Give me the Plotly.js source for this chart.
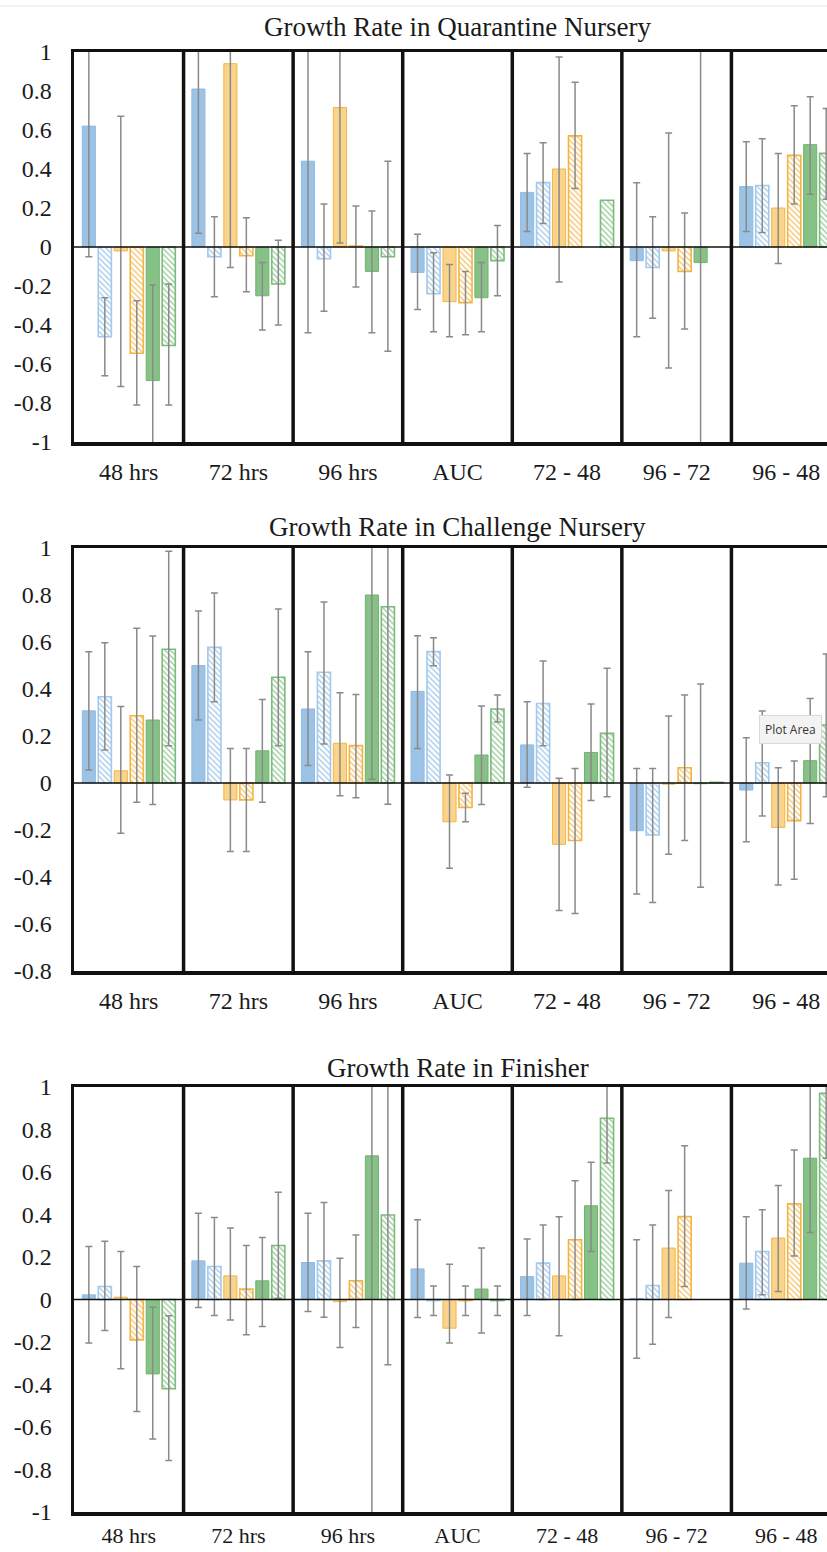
<!DOCTYPE html>
<html>
<head>
<meta charset="utf-8">
<script src="https://cdn.plot.ly/plotly-3.0.1.min.js"></script>
<style>
  html, body { margin: 0; padding: 0; background: #ffffff; overflow: hidden; width: 827px; height: 1552px; }
  #chart { width: 860px; height: 1552px; }
</style>
</head>
<body>
<div id="chart"></div>
<script>
// ---------------- DATA ----------------
const categories = ['48 hrs', '72 hrs', '96 hrs', 'AUC', '72 - 48', '96 - 72', '96 - 48'];
const seriesNames = ['Blue', 'Blue (hatched)', 'Orange', 'Orange (hatched)', 'Green', 'Green (hatched)'];
const panelTitles = ['Growth Rate in Quarantine Nursery', 'Growth Rate in Challenge Nursery', 'Growth Rate in Finisher'];
const yTicksFull = [-1, -0.8, -0.6, -0.4, -0.2, 0, 0.2, 0.4, 0.6, 0.8, 1];
const yTicksChallenge = [-0.8, -0.6, -0.4, -0.2, 0, 0.2, 0.4, 0.6, 0.8, 1];

// Quarantine Nursery: means, lower and upper error-bar ends (rows = series, cols = categories)
const quarantineMean = [
  [0.62, 0.81, 0.44, -0.13, 0.28, -0.07, 0.31],
  [-0.46, -0.05, -0.06, -0.24, 0.33, -0.105, 0.315],
  [-0.02, 0.94, 0.715, -0.28, 0.40, -0.02, 0.20],
  [-0.545, -0.045, 0.005, -0.285, 0.57, -0.125, 0.47],
  [-0.685, -0.25, -0.125, -0.26, null, -0.08, 0.525],
  [-0.505, -0.19, -0.05, -0.07, 0.24, null, 0.48]
];
const quarantineLow = [
  [-0.05, 0.07, -0.44, -0.32, 0.08, -0.46, 0.08],
  [-0.66, -0.255, -0.33, -0.435, 0.12, -0.365, 0.075],
  [-0.715, -0.105, 0.02, -0.46, -0.18, -0.62, -0.085],
  [-0.81, -0.23, -0.205, -0.45, 0.30, -0.42, 0.22],
  [-1.18, -0.425, -0.44, -0.435, null, -1.3, 0.27],
  [-0.81, -0.40, -0.535, -0.25, null, null, 0.245]
];
const quarantineHigh = [
  [1.29, 1.55, 1.32, 0.065, 0.48, 0.33, 0.54],
  [-0.26, 0.155, 0.22, -0.03, 0.535, 0.155, 0.555],
  [0.67, 1.98, 1.41, -0.09, 0.975, 0.585, 0.48],
  [-0.275, 0.15, 0.21, -0.125, 0.845, 0.175, 0.725],
  [-0.195, -0.08, 0.185, -0.08, null, 1.15, 0.77],
  [-0.19, 0.035, 0.44, 0.11, null, null, 0.71]
];

// Challenge Nursery
const challengeMean = [
  [0.307, 0.50, 0.315, 0.39, 0.162, -0.203, -0.03],
  [0.367, 0.577, 0.471, 0.559, 0.338, -0.221, 0.086],
  [0.052, -0.072, 0.169, -0.165, -0.261, -0.005, -0.189],
  [0.286, -0.072, 0.159, -0.104, -0.245, 0.065, -0.16],
  [0.268, 0.137, 0.80, 0.119, 0.13, -0.003, 0.095],
  [0.569, 0.45, 0.75, 0.315, 0.211, 0.003, 0.247]
];
const challengeLow = [
  [0.055, 0.268, 0.074, 0.147, -0.018, -0.472, -0.25],
  [0.14, 0.346, 0.166, 0.499, 0.159, -0.508, -0.14],
  [-0.214, -0.292, -0.054, -0.363, -0.543, -0.303, -0.434],
  [-0.082, -0.292, -0.063, -0.165, -0.555, -0.245, -0.41],
  [-0.091, -0.082, 0.016, -0.091, -0.075, -0.444, -0.172],
  [0.159, 0.159, -0.09, 0.26, -0.058, null, -0.058]
];
const challengeHigh = [
  [0.559, 0.732, 0.559, 0.627, 0.346, 0.062, 0.193],
  [0.597, 0.809, 0.77, 0.618, 0.519, 0.062, 0.306],
  [0.325, 0.147, 0.384, 0.034, 0.02, 0.285, 0.065],
  [0.658, 0.147, 0.377, -0.044, 0.062, 0.374, 0.094],
  [0.626, 0.355, 1.58, 0.328, 0.336, 0.421, 0.36],
  [0.986, 0.74, 1.59, 0.374, 0.488, null, 0.549]
];

// Finisher
const finisherMean = [
  [0.022, 0.182, 0.174, 0.144, 0.108, 0.005, 0.171],
  [0.061, 0.155, 0.182, -0.005, 0.171, 0.066, 0.226],
  [0.011, 0.111, -0.01, -0.135, 0.111, 0.242, 0.289],
  [-0.19, 0.049, 0.088, -0.005, 0.281, 0.39, 0.45],
  [-0.35, 0.088, 0.676, 0.049, 0.441, null, 0.665],
  [-0.42, 0.254, 0.398, -0.005, 0.853, null, 0.97]
];
const finisherLow = [
  [-0.205, -0.038, -0.056, -0.085, -0.075, -0.276, -0.045],
  [-0.146, -0.075, -0.083, -0.075, 0.0, -0.21, 0.022],
  [-0.326, -0.096, -0.226, -0.205, -0.171, -0.085, 0.038],
  [-0.527, -0.166, -0.132, -0.075, 0.0, 0.061, 0.205],
  [-0.657, -0.127, -1.2, -0.158, 0.226, null, 0.315],
  [-0.758, 0.006, -0.307, -0.075, 0.642, null, 0.665]
];
const finisherHigh = [
  [0.25, 0.406, 0.406, 0.375, 0.285, 0.281, 0.39],
  [0.274, 0.386, 0.456, 0.064, 0.351, 0.351, 0.422],
  [0.226, 0.336, 0.194, 0.166, 0.39, 0.513, 0.536],
  [0.155, 0.254, 0.304, 0.064, 0.559, 0.723, 0.704],
  [-0.036, 0.292, 2.5, 0.242, 0.646, null, 1.2],
  [-0.077, 0.505, 1.1, 0.064, 1.2, null, 1.3]
];

// ---------------- STYLE ----------------
const H = 1552;
const panelPx = [[52, 442], [548, 971], [1087, 1512]];   // plot area top/bottom in px
const titlePx = [27, 527, 1068];
const yRanges = [[-1, 1], [-0.8, 1], [-1, 1]];
const yTickSets = [yTicksFull, yTicksChallenge, yTicksFull];
const xLabelStandoff = [6, 6, 1];
const xLabelSize = [24, 24, 22];

const seriesStyle = [
  { fill: '#9cc3e6', line: '#8fbbe3', hatch: false },
  { fill: '#9fc6e8', line: '#a5c9ea', hatch: true },
  { fill: '#fbd48c', line: '#f3b446', hatch: false },
  { fill: '#f4bf62', line: '#f3b446', hatch: true },
  { fill: '#86c286', line: '#71b271', hatch: false },
  { fill: '#8fc78f', line: '#7cbb7c', hatch: true }
];
const serif = 'Liberation Serif, Times New Roman, serif';
const textColor = '#1a1a1a';

const panels = [
  { mean: quarantineMean, low: quarantineLow, high: quarantineHigh },
  { mean: challengeMean, low: challengeLow, high: challengeHigh },
  { mean: finisherMean, low: finisherLow, high: finisherHigh }
];

const traces = [];
panels.forEach((pd, p) => {
  const xa = p === 0 ? 'x' : 'x' + (p + 1);
  const ya = p === 0 ? 'y' : 'y' + (p + 1);
  pd.mean.forEach((m, s) => {
    const st = seriesStyle[s];
    const plus = m.map((v, i) => (v == null || pd.high[s][i] == null) ? NaN : pd.high[s][i] - v);
    const minus = m.map((v, i) => (v == null || pd.low[s][i] == null) ? NaN : v - pd.low[s][i]);
    const marker = st.hatch ? {
      color: '#ffffff',
      line: { color: st.line, width: 1.6 },
      pattern: { shape: '\\', fgcolor: st.fill, bgcolor: '#ffffff', size: 4, solidity: 0.3, fillmode: 'replace' }
    } : {
      color: st.fill,
      line: { color: st.line, width: 1 }
    };
    traces.push({
      type: 'bar',
      name: seriesNames[s],
      x: categories,
      y: m,
      xaxis: xa,
      yaxis: ya,
      marker: marker,
      error_y: {
        type: 'data', symmetric: false, array: plus, arrayminus: minus,
        color: '#8a8a8a', thickness: 1.5, width: 3.5
      },
      showlegend: false,
      hoverinfo: 'skip'
    });
  });
});

const layout = {
  width: 860,
  height: H,
  margin: { l: 74, r: 19, t: 0, b: 0 },
  paper_bgcolor: '#ffffff',
  plot_bgcolor: '#ffffff',
  barmode: 'group',
  bargap: 0.125,
  bargroupgap: 0.18,
  showlegend: false,
  font: { family: serif, color: textColor },
  shapes: [],
  annotations: []
};

panels.forEach((pd, p) => {
  const suf = p === 0 ? '' : String(p + 1);
  const xa = 'x' + suf, ya = 'y' + suf;
  const [top, bot] = panelPx[p];
  layout['xaxis' + suf] = {
    domain: [0, 1], anchor: ya, type: 'category',
    range: [-0.5, categories.length - 0.5],
    showline: true, mirror: true, linecolor: '#111111', linewidth: 3.5,
    showgrid: false, zeroline: false, ticks: '',
    tickfont: { family: serif, size: xLabelSize[p], color: textColor },
    ticklabelstandoff: xLabelStandoff[p], fixedrange: true
  };
  const tv = yTickSets[p];
  layout['yaxis' + suf] = {
    domain: [1 - bot / H, 1 - top / H], anchor: xa,
    range: yRanges[p],
    tickvals: tv, ticktext: tv.map(v => String(v)),
    showline: true, mirror: true, linecolor: '#111111', linewidth: 3.5,
    showgrid: false, zeroline: false, ticks: '',
    tickfont: { family: serif, size: 24, color: textColor },
    ticklabelstandoff: 14, fixedrange: true
  };
  // category separators
  for (let i = 0; i < categories.length - 1; i++) {
    layout.shapes.push({
      type: 'line', xref: xa, yref: ya + ' domain',
      x0: i + 0.5, x1: i + 0.5, y0: 0, y1: 1,
      line: { color: '#111111', width: 3.5 }, layer: 'above'
    });
  }
  // zero line
  layout.shapes.push({
    type: 'line', xref: xa + ' domain', yref: ya,
    x0: 0, x1: 1, y0: 0, y1: 0,
    line: { color: '#111111', width: 1.6 }, layer: 'above'
  });
  // panel title
  layout.annotations.push({
    text: panelTitles[p], xref: 'paper', yref: 'paper',
    x: 0.5, y: 1 - titlePx[p] / H, xanchor: 'center', yanchor: 'middle',
    showarrow: false, font: { family: serif, size: 27, color: textColor }
  });
});

// faint line at the very top of the image
layout.shapes.push({
  type: 'line', xref: 'paper', yref: 'paper',
  x0: -0.1, x1: 1.1, y0: 1 - 6 / H, y1: 1 - 6 / H,
  line: { color: '#e8e8e8', width: 1 }
});

// Excel-style "Plot Area" tooltip captured in the original picture
layout.annotations.push({
  text: 'Plot Area', xref: 'paper', yref: 'paper',
  x: (790 - 74) / 767, y: 1 - 729 / H, xanchor: 'center', yanchor: 'middle',
  showarrow: false, font: { family: 'Open Sans, Noto Sans, sans-serif', size: 12, color: '#333333' },
  bgcolor: '#f3f3f3', bordercolor: '#d9d9d9', borderwidth: 1, borderpad: 5
});

Plotly.newPlot('chart', traces, layout, { displayModeBar: false, staticPlot: true });
</script>
</body>
</html>
